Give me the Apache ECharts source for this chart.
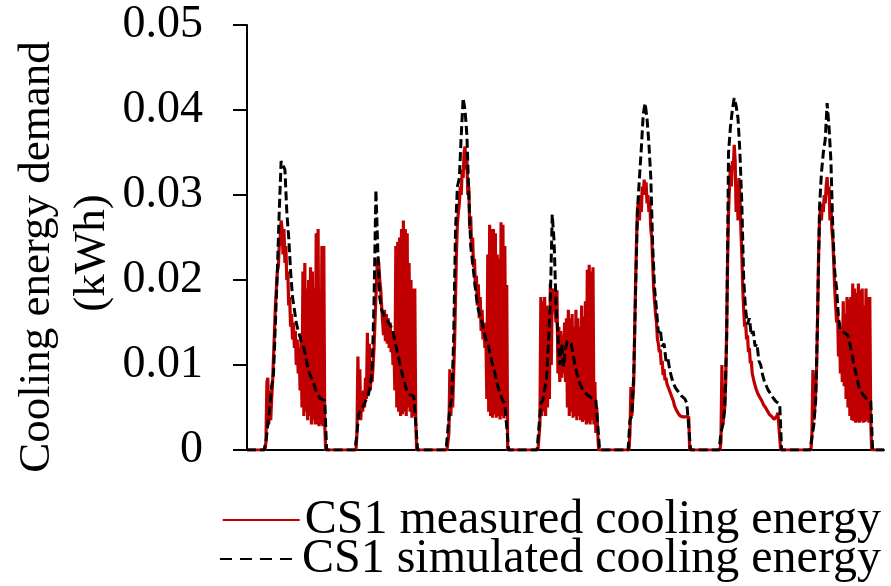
<!DOCTYPE html>
<html><head><meta charset="utf-8">
<script src="https://cdn.jsdelivr.net/npm/echarts@6/dist/echarts.min.js"></script>
<style>html,body{margin:0;padding:0;background:#fff}#c{width:891px;height:586px}</style>
</head><body><div id="c"></div>
<script>
// Y axis ticks (kWh)
const yTicks = [0, 0.01, 0.02, 0.03, 0.04, 0.05];
const seriesNames = ['CS1 measured cooling energy', 'CS1 simulated cooling energy'];
const yTitle = ['Cooling energy demand', '(kWh)'];
const totalHours = 168;
// measured: one value every 0.25 h from 04:45 to 20:45 of each day
const measuredStart = 4.75, measuredStep = 0.25;
// simulated: one value every 0.5 h from 04:30 to 21:00 of each day
const simulatedStart = 4.5, simulatedStep = 0.5;

const measuredDay1 = [0, 0.001, 0.008, 0.0085, 0.003, 0.007, 0.0035, 0.006, 0.008, 0.011, 0.014, 0.017, 0.019, 0.021, 0.0215, 0.024, 0.025, 0.027, 0.026, 0.023, 0.026, 0.022, 0.024, 0.020, 0.021, 0.017, 0.018, 0.0145, 0.016, 0.013, 0.015, 0.012, 0.014, 0.010, 0.013, 0.009, 0.012, 0.007, 0.013, 0.005, 0.021, 0.004, 0.022, 0.0045, 0.019, 0.0035, 0.020, 0.004, 0.0215, 0.003, 0.021, 0.0035, 0.019, 0.003, 0.0255, 0.003, 0.026, 0.0028, 0.014, 0.003, 0.024, 0.0028, 0.024, 0.003, 0];
const measuredDay2 = [0, 0.002, 0.011, 0.004, 0.0095, 0.0035, 0.006, 0.0045, 0.007, 0.005, 0.0085, 0.006, 0.0138, 0.0065, 0.0125, 0.007, 0.009, 0.008, 0.010, 0.012, 0.015, 0.018, 0.021, 0.0225, 0.022, 0.020, 0.019, 0.017, 0.0168, 0.0135, 0.0165, 0.0128, 0.016, 0.0125, 0.0155, 0.012, 0.015, 0.0115, 0.014, 0.010, 0.012, 0.007, 0.024, 0.005, 0.0245, 0.0045, 0.025, 0.004, 0.026, 0.0042, 0.027, 0.0045, 0.026, 0.004, 0.0255, 0.005, 0.022, 0.0045, 0.020, 0.0038, 0.019, 0.004, 0.019, 0.0035, 0];
const measuredDay3 = [0, 0, 0.002, 0.0095, 0.004, 0.0065, 0.005, 0.009, 0.0126, 0.018, 0.0235, 0.0267, 0.028, 0.029, 0.031, 0.030, 0.033, 0.032, 0.035, 0.0357, 0.033, 0.034, 0.030, 0.031, 0.026, 0.0275, 0.0235, 0.025, 0.0215, 0.0225, 0.019, 0.0205, 0.017, 0.0195, 0.0155, 0.018, 0.014, 0.0165, 0.013, 0.015, 0.012, 0.0135, 0.006, 0.023, 0.0045, 0.0265, 0.004, 0.026, 0.0038, 0.026, 0.0042, 0.0255, 0.0038, 0.023, 0.004, 0.0225, 0.0036, 0.0268, 0.004, 0.0265, 0.0037, 0.024, 0.0045, 0.0194, 0];
const measuredDay4 = [0, 0, 0.003, 0.018, 0.004, 0.0175, 0.0045, 0.018, 0.004, 0.017, 0.005, 0.0165, 0.006, 0.0196, 0.010, 0.019, 0.018, 0.0185, 0.0165, 0.015, 0.0188, 0.009, 0.0145, 0.008, 0.014, 0.0085, 0.0135, 0.009, 0.015, 0.008, 0.0155, 0.005, 0.0165, 0.004, 0.0155, 0.0045, 0.016, 0.0038, 0.0145, 0.004, 0.0165, 0.0035, 0.0155, 0.004, 0.0145, 0.0035, 0.017, 0.0033, 0.0157, 0.0035, 0.0175, 0.003, 0.0212, 0.0032, 0.0218, 0.003, 0.021, 0.0035, 0.0215, 0.003, 0.008, 0.002, 0.005, 0.002, 0];
const measuredDay5 = [0, 0.002, 0.0074, 0.004, 0.006, 0.008, 0.014, 0.020, 0.025, 0.0285, 0.029, 0.027, 0.030, 0.028, 0.031, 0.030, 0.0318, 0.030, 0.0315, 0.029, 0.030, 0.028, 0.029, 0.026, 0.025, 0.022, 0.019, 0.0175, 0.016, 0.015, 0.013, 0.0125, 0.0115, 0.0118, 0.010, 0.0105, 0.0088, 0.0095, 0.0082, 0.0085, 0.0078, 0.0077, 0.0072, 0.007, 0.0066, 0.0063, 0.006, 0.0057, 0.0052, 0.005, 0.0047, 0.0045, 0.0043, 0.0042, 0.004, 0.004, 0.0039, 0.0039, 0.0039, 0.0039, 0.0039, 0.0039, 0.0039, 0.0039, 0];
const measuredDay6 = [0, 0.001, 0.010, 0.003, 0.004, 0.005, 0.008, 0.014, 0.022, 0.028, 0.031, 0.0335, 0.031, 0.034, 0.033, 0.0359, 0.034, 0.028, 0.031, 0.027, 0.032, 0.030, 0.026, 0.023, 0.019, 0.0165, 0.0145, 0.015, 0.013, 0.0135, 0.0115, 0.012, 0.0102, 0.0105, 0.009, 0.0092, 0.008, 0.0082, 0.0072, 0.0074, 0.0066, 0.0066, 0.0062, 0.006, 0.0058, 0.0056, 0.0053, 0.0051, 0.005, 0.0048, 0.0046, 0.0044, 0.0042, 0.0041, 0.004, 0.0039, 0.0038, 0.0036, 0.0035, 0.0037, 0.004, 0.0044, 0.0045, 0.0045, 0];
const measuredDay7 = [0, 0.002, 0.0094, 0.0035, 0.005, 0.007, 0.010, 0.016, 0.023, 0.027, 0.0286, 0.027, 0.029, 0.028, 0.030, 0.029, 0.031, 0.0321, 0.030, 0.031, 0.027, 0.029, 0.026, 0.0247, 0.022, 0.019, 0.017, 0.015, 0.0165, 0.011, 0.015, 0.009, 0.0141, 0.008, 0.0175, 0.0075, 0.016, 0.006, 0.018, 0.005, 0.0177, 0.004, 0.018, 0.0035, 0.0196, 0.0034, 0.019, 0.0032, 0.0185, 0.0033, 0.0196, 0.0032, 0.0188, 0.0034, 0.019, 0.0032, 0.017, 0.0033, 0.019, 0.0035, 0.018, 0.0032, 0.018, 0.0035, 0];

const simulatedDay1 = [0, 0.001, 0.003, 0.005, 0.0075, 0.009, 0.015, 0.021, 0.028, 0.034, 0.0335, 0.033, 0.028, 0.025, 0.021, 0.018, 0.0165, 0.015, 0.014, 0.0133, 0.0125, 0.012, 0.011, 0.0098, 0.009, 0.0085, 0.008, 0.0072, 0.0067, 0.0063, 0.006, 0.006, 0.0058, 0];
const simulatedDay2 = [0, 0.002, 0.0043, 0.0045, 0.005, 0.0055, 0.006, 0.0065, 0.0075, 0.0095, 0.0173, 0.0306, 0.0235, 0.018, 0.0165, 0.016, 0.0155, 0.0152, 0.015, 0.0145, 0.014, 0.0128, 0.0118, 0.0108, 0.0098, 0.0088, 0.008, 0.0072, 0.0068, 0.0065, 0.0063, 0.0063, 0.0062, 0];
const simulatedDay3 = [0, 0, 0.005, 0.006, 0.013, 0.026, 0.031, 0.032, 0.037, 0.0414, 0.040, 0.037, 0.030, 0.024, 0.022, 0.020, 0.018, 0.0165, 0.0158, 0.015, 0.014, 0.013, 0.0127, 0.0115, 0.0105, 0.0097, 0.0088, 0.0077, 0.007, 0.0063, 0.0058, 0.0054, 0.0053, 0];
const simulatedDay4 = [0, 0, 0.0055, 0.0058, 0.006, 0.0085, 0.0125, 0.0176, 0.0277, 0.0245, 0.017, 0.0135, 0.010, 0.0125, 0.0098, 0.012, 0.0128, 0.0129, 0.0125, 0.0112, 0.010, 0.009, 0.0082, 0.0076, 0.0071, 0.0068, 0.0066, 0.0064, 0.0063, 0.0061, 0.006, 0.0059, 0.0058, 0];
const simulatedDay5 = [0, 0.0035, 0.004, 0.009, 0.019, 0.0285, 0.032, 0.0355, 0.0395, 0.0408, 0.039, 0.036, 0.032, 0.024, 0.019, 0.0165, 0.0138, 0.0142, 0.0122, 0.0125, 0.0105, 0.0108, 0.0094, 0.0085, 0.0078, 0.0073, 0.007, 0.0067, 0.0064, 0.0062, 0.006, 0.0055, 0.0053, 0];
const simulatedDay6 = [0, 0.002, 0.003, 0.005, 0.013, 0.035, 0.038, 0.040, 0.0414, 0.0405, 0.039, 0.035, 0.029, 0.020, 0.0165, 0.0148, 0.0155, 0.0135, 0.014, 0.0122, 0.0125, 0.0105, 0.010, 0.0088, 0.008, 0.0075, 0.007, 0.0067, 0.0063, 0.006, 0.0057, 0.0055, 0.0054, 0];
const simulatedDay7 = [0, 0.0015, 0.003, 0.006, 0.016, 0.0286, 0.0326, 0.035, 0.0365, 0.0408, 0.038, 0.034, 0.026, 0.021, 0.019, 0.0155, 0.0141, 0.0139, 0.0138, 0.0137, 0.0135, 0.0125, 0.0114, 0.0102, 0.0092, 0.0082, 0.0072, 0.0068, 0.0065, 0.0063, 0.006, 0.0058, 0.0057, 0];

const measuredDays = [measuredDay1, measuredDay2, measuredDay3, measuredDay4, measuredDay5, measuredDay6, measuredDay7];
const simulatedDays = [simulatedDay1, simulatedDay2, simulatedDay3, simulatedDay4, simulatedDay5, simulatedDay6, simulatedDay7];

function buildSeries(days, start, step) {
  const out = [[0, 0]];
  days.forEach(function (vals, d) {
    vals.forEach(function (v, i) { out.push([d * 24 + start + i * step, v]); });
  });
  out.push([totalHours, 0]);
  return out;
}

const serif = '"Liberation Serif", "Times New Roman", serif';
const legendBase = {
  orient: 'vertical', right: 5, itemWidth: 77, itemHeight: 20, itemGap: 0,
  height: 80,
  itemStyle: {opacity: 0},
  textStyle: {fontFamily: serif, fontSize: 48, color: '#000', lineHeight: 48}
};
const chart = echarts.init(document.getElementById('c'), null, {renderer: 'canvas'});
chart.setOption({
  animation: false,
  backgroundColor: '#ffffff',
  grid: {left: 247, right: 7, top: 25, bottom: 136, containLabel: false},
  xAxis: {
    type: 'value', min: 0, max: totalHours,
    axisLine: {lineStyle: {color: '#000', width: 2}},
    axisTick: {show: false}, axisLabel: {show: false}, splitLine: {show: false}
  },
  yAxis: {
    type: 'value', min: yTicks[0], max: yTicks[yTicks.length - 1], interval: 0.01,
    axisLine: {show: true, lineStyle: {color: '#000', width: 2}},
    axisTick: {show: true, length: 14, lineStyle: {color: '#000', width: 2}},
    axisLabel: {color: '#000', fontFamily: serif, fontSize: 46, margin: 44,
      formatter: function (v) { return v === 0 ? '0' : v.toFixed(2); }},
    splitLine: {show: false}
  },
  graphic: [
    {type: 'text', x: 37, y: 257, rotation: Math.PI / 2,
      style: {text: yTitle[0], font: '45px ' + serif, fill: '#000', align: 'center', verticalAlign: 'middle'}},
    {type: 'text', x: 92, y: 253, rotation: Math.PI / 2,
      style: {text: yTitle[1], font: '45px ' + serif, fill: '#000', align: 'center', verticalAlign: 'middle'}}
  ],
  legend: [
    Object.assign({}, legendBase, {top: 491, data: [seriesNames[0]], lineStyle: {width: 2}}),
    Object.assign({}, legendBase, {top: 530, data: [seriesNames[1]], lineStyle: {width: 2, type: [12, 8]}})
  ],
  series: [
    {name: seriesNames[0], type: 'line', symbol: 'none', showSymbol: false,
      data: buildSeries(measuredDays, measuredStart, measuredStep),
      lineStyle: {color: '#C00000', width: 3.2}, itemStyle: {color: '#C00000'}, z: 2},
    {name: seriesNames[1], type: 'line', symbol: 'none', showSymbol: false,
      data: buildSeries(simulatedDays, simulatedStart, simulatedStep),
      lineStyle: {color: '#000', width: 3, type: [9, 4]}, itemStyle: {color: '#000'}, z: 3}
  ]
});
</script></body></html>
